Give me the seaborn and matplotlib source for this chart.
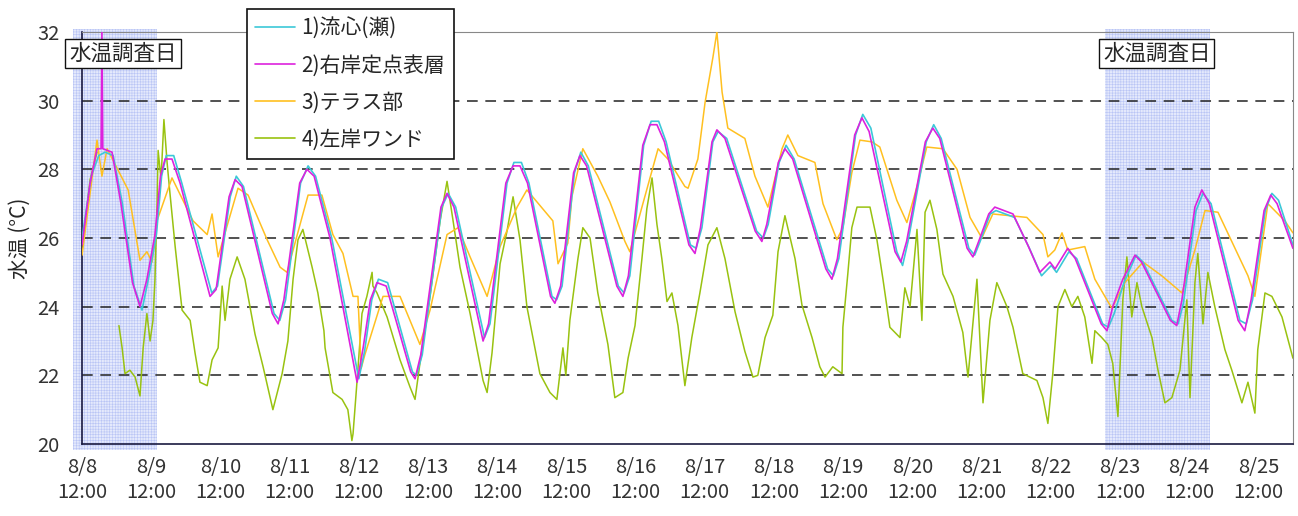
import numpy as np
import pandas as pd
import matplotlib
matplotlib.use("Agg")
import matplotlib.pyplot as plt
import matplotlib.transforms as mtransforms
from matplotlib.patches import Rectangle
import seaborn as sns

# hours since 8/8 12:00 and water temperature (deg C)
ryushin_h = [0, 3.2, 5.8, 8, 10.8, 14, 18, 20.8, 23, 25.8, 27.6, 29.2, 31.8, 34.6, 45, 47, 51.4, 53.5, 56,
             66.6, 68.6, 70.6, 75.8, 78.4, 81, 86.6, 96, 98, 100.5, 102.8, 106, 114.6, 116, 118, 124.8, 127,
             129.6, 139.6, 141.5, 147.4, 149.8, 152.4, 155, 163, 164.6, 166.5, 170.8, 173, 175.6, 186, 188,
             190, 194.8, 197.4, 200, 202.6, 211, 213, 215, 218.8, 220.6, 223.6, 234, 236.3, 238, 241.8,
             244.2, 247, 258.6, 260.6, 262.5, 268.3, 270.8, 273.6, 282.6, 284.6, 286.5, 292.8, 295.4, 298,
             307.6, 309.6, 311.5, 315, 317, 323.4, 328.6, 332.8, 336.2, 338, 342.3, 345, 354, 356, 358,
             361.4, 365.6, 368, 378, 380.2, 382, 386.4, 388.8, 391.6, 401.6, 403.8, 406, 410.4, 412.7, 415, 420]
ryushin_t = [26.0, 27.8, 28.4, 28.5, 28.4, 27.0, 24.6, 23.9, 24.8, 26.1, 27.8, 28.4, 28.4, 27.6, 24.4, 24.6, 27.2,
             27.8, 27.5, 23.8, 23.6, 24.2, 27.6, 28.1, 27.8, 26.0, 21.9, 22.7, 24.2, 24.8, 24.7, 22.1, 22.0, 22.6,
             26.9, 27.3, 26.9, 23.1, 23.5, 27.6, 28.2, 28.2, 27.6, 24.3, 24.2, 24.6, 27.9, 28.5, 28.1, 24.6, 24.4,
             24.9, 28.7, 29.4, 29.4, 28.8, 25.8, 25.7, 26.3, 28.8, 29.1, 28.9, 26.2, 26.0, 26.4, 28.2, 28.7, 28.3,
             25.1, 24.9, 25.4, 29.0, 29.6, 29.2, 25.6, 25.2, 25.9, 28.8, 29.3, 28.9, 25.7, 25.5, 25.9, 26.7, 26.8,
             26.6, 25.7, 24.9, 25.2, 25.0, 25.6, 25.4, 23.5, 23.4, 23.8, 24.7, 25.5, 25.3, 23.6, 23.5, 24.1, 26.8,
             27.3, 27.0, 23.6, 23.5, 24.2, 26.8, 27.3, 27.1, 25.8]

ugan_h = [0, 2.8, 5.2, 6.6, 6.9, 7.2, 10.4, 13.5, 17.5, 20.1, 22.5, 25.3, 27.2, 28.8, 31.2, 34, 44.4, 46.5, 51,
          53.1, 55.5, 66, 68, 70, 75.5, 78, 80.5, 86, 95.4, 97.5, 100, 102.3, 105.5, 114, 115.5, 117.5, 124.5,
          126.6, 129, 139.1, 141, 147, 149.5, 151.9, 154.5, 162.5, 164, 166, 170.5, 172.7, 175, 185.5, 187.6,
          189.5, 194.5, 197, 199.4, 202, 210.5, 212.6, 214.5, 218.5, 220.2, 223, 233.5, 235.8, 237.5, 241.5,
          243.8, 246.5, 258, 260.1, 262, 268, 270.5, 273, 282, 284, 286, 292.5, 295.1, 297.5, 307, 309, 311,
          314.5, 316.6, 322.9, 328, 332.2, 335.7, 337.5, 341.9, 344.5, 353.5, 355.5, 357.5, 361, 365.2, 367.5,
          377.5, 379.7, 381.5, 386, 388.4, 391, 401, 403.3, 405.5, 410, 412.3, 414.5, 420]
ugan_t = [25.8, 27.6, 28.6, 28.6, 32.0, 28.6, 28.5, 27.0, 24.7, 24.0, 24.8, 26.1, 27.8, 28.3, 28.3, 27.6, 24.3,
          24.5, 27.2, 27.7, 27.5, 23.8, 23.5, 24.2, 27.6, 28.0, 27.8, 26.0, 21.8, 22.8, 24.2, 24.7, 24.6, 22.1,
          21.9, 22.6, 26.9, 27.3, 26.9, 23.0, 23.5, 27.6, 28.1, 28.1, 27.6, 24.3, 24.1, 24.6, 27.9, 28.4, 28.1,
          24.6, 24.3, 24.9, 28.7, 29.3, 29.3, 28.8, 25.8, 25.55, 26.3, 28.8, 29.15, 28.9, 26.2, 25.9, 26.4, 28.2,
          28.6, 28.3, 25.1, 24.8, 25.4, 29.0, 29.5, 29.1, 25.6, 25.3, 25.9, 28.8, 29.2, 28.9, 25.7, 25.45, 25.9,
          26.7, 26.9, 26.7, 25.8, 25.0, 25.3, 25.1, 25.7, 25.4, 23.5, 23.3, 24.0, 24.8, 25.5, 25.3, 23.6, 23.45,
          24.2, 26.9, 27.4, 27.0, 23.6, 23.3, 24.2, 26.8, 27.25, 27.0, 25.7]

terrace_h = [0, 5.2, 6.9, 8.7, 16.0, 20.1, 22.5, 24.3, 26.0, 31.2, 38.5, 43.4, 45.1, 47.2, 54.1, 57.6, 64.2,
             68.7, 71.1, 78.4, 83.2, 87.0, 90.5, 94.0, 95.7, 96.8, 98.1, 104.4, 110.3, 117.2, 120.7, 126.6,
             130.4, 134.6, 140.5, 145.0, 150.9, 154.3, 163.3, 165.1, 168.5, 169.9, 173.7, 178.9, 183.1, 188.3,
             190.0, 194.2, 199.8, 203.2, 209.1, 210.2, 213.6, 216.1, 218.8, 220.2, 222.0, 224.0, 229.9, 233.4,
             237.9, 242.8, 244.8, 248.3, 254.2, 257.0, 261.8, 263.9, 267.0, 269.8, 274.0, 276.7, 282.6, 286.1,
             289.6, 293.0, 298.6, 303.5, 308.0, 312.1, 315.9, 321.8, 327.7, 333.3, 335.0, 337.4, 339.9, 341.9,
             347.8, 351.3, 357.2, 361.7, 368.0, 374.5, 381.5, 386.0, 389.5, 394.0, 404.4, 406.8, 411.3, 417.2, 420]
terrace_t = [25.5, 28.85, 27.8, 28.6, 27.4, 25.35, 25.6, 25.3, 26.5, 27.75, 26.5, 26.1, 26.7, 25.45, 27.45, 27.25,
             25.95, 25.15, 25.0, 27.25, 27.25, 26.1, 25.55, 24.3, 24.3, 22.2, 22.6, 24.3, 24.3, 22.9, 23.9, 26.1,
             26.3, 25.45, 24.3, 25.75, 26.9, 27.4, 26.5, 25.25, 25.85, 27.2, 28.6, 27.8, 27.05, 25.9, 25.6, 26.9,
             28.6, 28.3, 27.5, 27.45, 28.3, 29.95, 31.25, 32.0, 30.25, 29.2, 28.9, 27.8, 26.9, 28.6, 29.0, 28.4,
             28.2, 27.0, 25.95, 26.3, 27.9, 28.85, 28.8, 28.65, 27.1, 26.45, 27.5, 28.65, 28.6, 28.0, 26.6, 26.0,
             26.7, 26.65, 26.6, 26.1, 25.45, 25.65, 26.15, 25.65, 25.75, 24.8, 23.95, 24.7, 25.3, 24.9, 24.4,
             25.65, 26.8, 26.75, 24.9, 24.3, 27.0, 26.5, 26.15]

wand_early_h = [0, 2.8, 5.2]
wand_early_t = [25.7, 27.7, 28.5]
wand_h = [12.8, 13.9, 14.9, 16.6, 18.4, 20.1, 21.2, 22.5, 23.6, 24.6, 25.3, 26.0, 26.4, 27.4, 28.4, 29.5, 30.5,
          32.3, 34.7, 37.5, 39.2, 40.9, 43.4, 45.1, 47.2, 48.6, 49.6, 51.3, 53.8, 56.5, 60.0, 62.8, 66.2, 69.4,
          71.4, 73.2, 74.9, 76.6, 79.8, 81.8, 83.9, 84.3, 87.0, 90.2, 92.2, 93.6, 94.0, 95.4, 97.1, 98.8, 100.6,
          100.9, 102.3, 105.8, 110.3, 113.8, 115.5, 117.2, 120.7, 124.2, 126.6, 128.7, 131.1, 134.6, 139.1,
          140.5, 142.2, 145.0, 147.4, 149.5, 151.9, 154.3, 158.8, 162.3, 164.7, 166.8, 167.8, 169.2, 172.0,
          173.7, 176.2, 178.9, 182.4, 184.8, 187.6, 189.4, 191.8, 194.2, 195.9, 197.7, 199.4, 201.1, 202.9,
          204.6, 206.7, 209.1, 211.5, 214.3, 217.1, 220.2, 223.0, 226.5, 229.9, 232.7, 234.4, 236.9, 239.6,
          241.4, 243.8, 247.3, 249.7, 253.2, 255.9, 257.7, 260.4, 263.6, 263.9, 265.6, 267.0, 268.8, 273.3,
          275.7, 277.8, 280.2, 283.7, 285.4, 287.2, 289.6, 291.3, 292.4, 294.1, 296.5, 298.6, 302.1, 305.5,
          307.3, 310.4, 312.5, 314.9, 317.3, 320.8, 322.9, 326.3, 331.2, 333.3, 335.0, 336.7, 338.5, 340.9,
          343.3, 345.4, 347.8, 350.3, 351.3, 353.7, 355.8, 357.5, 359.3, 361.0, 362.4, 364.1, 365.9, 367.6,
          371.1, 373.2, 375.6, 378.0, 380.8, 383.2, 384.3, 386.0, 387.0, 388.8, 390.5, 392.9, 396.4, 398.8,
          402.3, 404.4, 406.8, 407.8, 410.3, 412.7, 416.2, 420]
wand_t = [23.45, 22.8, 22.05, 22.15, 21.95, 21.4, 22.8, 23.8, 23.0, 23.6, 24.8, 26.9, 28.55, 27.7, 29.45, 28.2,
          27.3, 25.75, 23.9, 23.6, 22.65, 21.8, 21.7, 22.45, 22.8, 24.6, 23.6, 24.8, 25.45, 24.8, 23.2, 22.25,
          21.0, 22.05, 23.0, 24.8, 25.95, 26.25, 25.15, 24.4, 23.3, 22.8, 21.5, 21.3, 21.0, 20.1, 20.3, 21.85,
          23.8, 24.3, 25.0, 24.6, 24.4, 23.7, 22.45, 21.65, 21.3, 22.35, 24.3, 26.5, 27.65, 26.5, 25.15, 23.8,
          21.85, 21.5, 22.65, 25.25, 26.2, 27.2, 25.95, 24.0, 22.05, 21.5, 21.3, 22.8, 22.0, 23.6, 25.4, 26.3,
          26.0, 24.4, 22.9, 21.35, 21.5, 22.5, 23.45, 25.4, 26.85, 27.75, 26.4, 25.4, 24.15, 24.4, 23.45, 21.7,
          23.1, 24.4, 25.8, 26.3, 25.4, 23.85, 22.7, 21.95, 22.0, 23.1, 23.75, 25.6, 26.65, 25.4, 24.05, 23.1,
          22.25, 21.95, 22.25, 22.05, 23.4, 24.95, 26.3, 26.9, 26.9, 25.95, 24.8, 23.4, 23.1, 24.55, 24.0, 26.25,
          23.6, 26.75, 27.1, 26.25, 24.95, 24.3, 23.25, 21.95, 24.8, 21.2, 23.6, 24.7, 24.0, 23.4, 22.05, 21.85,
          21.35, 20.6, 22.05, 24.0, 24.5, 24.0, 24.3, 23.7, 22.35, 23.3, 23.1, 22.9, 22.35, 20.8, 24.2, 25.45,
          23.7, 24.7, 24.0, 23.1, 22.15, 21.2, 21.35, 22.15, 24.2, 21.35, 24.7, 25.55, 23.5, 25.0, 24.0, 22.75,
          22.15, 21.2, 21.8, 20.9, 22.75, 24.4, 24.3, 23.7, 22.5]

labels = ["1)流心(瀬)", "2)右岸定点表層", "3)テラス部", "4)左岸ワンド"]
colors = ["#3cc8d8", "#dd22dd", "#ffc020", "#99c210"]
survey_spans = [(-3.1, 26.0), (354.8, 391.2)]
survey_text = "水温調査日"
tick_hours = list(range(0, 409, 24))
tick_labels = [f"8/{d}\n12:00" for d in range(8, 26)]

sns.set_style("white")
plt.rcParams["font.family"] = ["Noto Sans CJK JP", "DejaVu Sans"]
plt.rcParams["hatch.linewidth"] = 0.4

fig = plt.figure(figsize=(12.98, 5.16), dpi=100)
ax = fig.add_axes([0.0632, 0.1395, 0.9329, 0.7985])

# survey day shading
trans = mtransforms.blended_transform_factory(ax.transData, ax.transAxes)
for x0, x1 in survey_spans:
    ax.add_patch(Rectangle((x0, -0.015), x1 - x0, 1.022, transform=trans, facecolor="#e4e9fc",
                           edgecolor="#b9c5f5", hatch="++++++", linewidth=0, clip_on=False, zorder=0))

for y in [22, 24, 26, 28, 30]:
    ax.axhline(y, color="#222222", lw=1.1, ls=(0, (7, 5)), zorder=1)

sns.lineplot(x=wand_early_h, y=wand_early_t, ax=ax, color=colors[3], lw=1.1, estimator=None, sort=False, zorder=2)
sns.lineplot(x=wand_h, y=wand_t, ax=ax, color=colors[3], lw=1.1, estimator=None, sort=False, zorder=2)
sns.lineplot(x=terrace_h, y=terrace_t, ax=ax, color=colors[2], lw=1.1, estimator=None, sort=False, zorder=3)
sns.lineplot(x=ryushin_h, y=ryushin_t, ax=ax, color=colors[0], lw=1.2, estimator=None, sort=False, zorder=4)
sns.lineplot(x=ugan_h, y=ugan_t, ax=ax, color=colors[1], lw=1.2, estimator=None, sort=False, zorder=5)

ax.set_xlim(0, 420)
ax.set_ylim(20, 32)
ax.set_xticks(tick_hours)
ax.set_xticklabels(tick_labels, fontsize=14.5, color="#333333", linespacing=1.3)
ax.set_yticks([20, 22, 24, 26, 28, 30, 32])
ax.tick_params(axis="x", direction="in", length=8, width=1, color="#222222", pad=9)
ax.tick_params(axis="y", direction="in", length=0, labelsize=14.5, labelcolor="#333333", pad=16)
ax.set_ylabel("水温 (°C)", fontsize=15)
ax.yaxis.set_label_coords(-0.042, 0.5)

for side in ["left", "bottom"]:
    ax.spines[side].set_color("#1a1a40")
    ax.spines[side].set_linewidth(1.2)
for side in ["top", "right"]:
    ax.spines[side].set_color("#888888")
    ax.spines[side].set_linewidth(0.8)

# survey day labels
for cx in [14.2, 372.8]:
    ax.text(cx, 0.948, survey_text, transform=trans, ha="center", va="center", fontsize=15.5, zorder=6,
            bbox=dict(boxstyle="square,pad=0.18", facecolor="white", edgecolor="#111111", lw=1))

handles = [plt.Line2D([], [], color=c, lw=1.2) for c in colors]
leg = ax.legend(handles, labels, loc="upper left", bbox_to_anchor=(0.136, 1.056), fontsize=15,
                frameon=True, fancybox=False, edgecolor="#111111", framealpha=1, handlelength=1.9,
                labelspacing=0.72, borderpad=0.42, handletextpad=0.3, borderaxespad=0)
leg.get_frame().set_linewidth(1.2)
leg.set_zorder(7)

fig.savefig("out.png", dpi=100)
